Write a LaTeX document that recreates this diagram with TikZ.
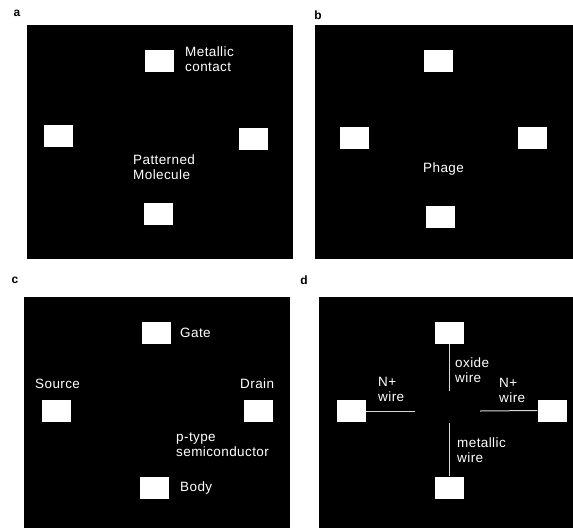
\documentclass[tikz,border=0pt]{standalone}
\usepackage{fontspec}
\setmainfont{Liberation Sans}
\newfontfamily\spacedfont{Liberation Sans}[LetterSpace=3]
\tikzset{
  pad/.style={fill=white, minimum width=29pt, minimum height=22pt, inner sep=0pt},
  lbl/.style={text=white, font=\spacedfont\fontsize{13.5}{15}\selectfont, align=left, anchor=west, inner sep=0pt},
  wire/.style={draw=white!85!black, line width=1pt},
  letra/.style={font=\fontsize{12}{14}\selectfont\bfseries, inner sep=0pt}
}
\begin{document}
\begin{tikzpicture}[x=1pt, y=-1pt]
  \useasboundingbox (0,0) rectangle (573,528);
  % los cuatro paneles negros
  \foreach \xa/\ya/\xb/\yb in {27/25/293/259, 315/25/573/259, 24/297/290/528, 319/297/573/528}
    \fill[black] (\xa,\ya) rectangle (\xb,\yb);
  % las letras de los paneles
  \foreach \n/\x/\y in {a/17/13, b/318/15, c/15/280, d/304/280}
    \node[letra] (let\n) at (\x,\y) {\n};
  % los contactos, cuatro en cada panel
  \foreach \n/\x/\y in {atop/159/60.5, aleft/58.5/136, aright/253/138.5, abot/158.5/214,
                        btop/438.5/60.5, bleft/354/138, bright/532/138, bbot/440/217,
                        ctop/156.5/333, cleft/56/411, cright/258/411, cbot/154/487.5,
                        dtop/449/333, dleft/351.5/411, dright/552/410.5, dbot/449/487.5}
    \node[pad] (\n) at (\x,\y) {};
  % los textos
  \node[lbl] (metal) at (185,59.5) {Metallic\\contact};
  \node[lbl] (molec) at (133,167.5) {Patterned\\Molecule};
  \node[lbl] (phage) at (423,169) {Phage};
  \node[lbl] (gate) at (180,333) {Gate};
  \node[lbl] (source) at (35,384) {Source};
  \node[lbl] (drain) at (240,384) {Drain};
  \node[lbl] (ptype) at (176,445) {p-type\\semiconductor};
  \node[lbl] (body) at (180,488) {Body};
  \node[lbl] (oxide) at (455,370) {oxide\\wire};
  \node[lbl] (nleft) at (378,389) {N+\\wire};
  \node[lbl] (nright) at (499,390) {N+\\wire};
  \node[lbl] (mwire) at (457,450.5) {metallic\\wire};
  % los hilos del panel d
  \coordinate (oxend) at (449,391);
  \coordinate (mwend) at (449,423);
  \coordinate (nlend) at (415,411);
  \coordinate (nrend) at (480,411);
  \draw[wire] (dtop.south) -- (oxend);
  \draw[wire] (mwend) -- (dbot.north);
  \draw[wire] (dleft.east) -- (nlend);
  \draw[wire] (nrend) -- (dright.west);
\end{tikzpicture}
\end{document}
